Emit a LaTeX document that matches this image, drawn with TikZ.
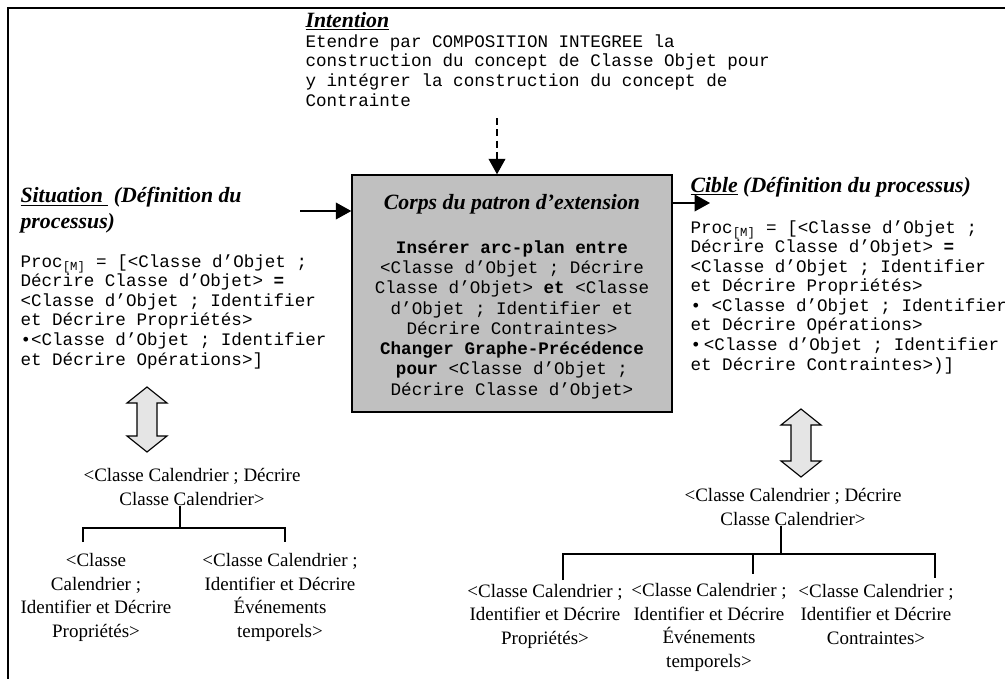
\documentclass[tikz,border=0pt]{standalone}
\usepackage{fontspec}
\setmainfont{Liberation Serif}
\setmonofont{Liberation Mono}
\usetikzlibrary{arrows.meta}
\definecolor{grisboite}{RGB}{192,192,192}
\tikzset{
  titre/.style={font=\fontsize{15.5}{18}\selectfont\bfseries\itshape, inner sep=0pt, align=left},
  code/.style={font=\fontsize{12.5}{13.9}\selectfont\ttfamily, inner sep=0pt, align=left},
  tache/.style={font=\fontsize{13.5}{16.6}\selectfont, inner sep=0pt, align=center, anchor=base},
  fleche/.style={-{Triangle[length=11pt,width=12pt]}, line width=0.8pt},
}
\newcommand{\procm}{Proc\textsubscript{[M]}}

\begin{document}
\begin{tikzpicture}[x=0.025cm, y=-0.025cm, line width=0.8pt]
\useasboundingbox (0,0) rectangle (1005,679);
\draw[line width=1pt] (1005,8) -- (8,8) -- (8,679);

% intention (base = derniere ligne)
\node[titre, anchor=base west] (inttitre) at (305,27) {\underline{Intention}};
\node[code, anchor=base west] (inttexte) at (305,106)
  {Etendre par COMPOSITION INTEGREE la\\construction du concept de Classe Objet pour\\y intégrer la construction du concept de\\Contrainte};

% corps du patron
\node[draw, line width=1pt, fill=grisboite, minimum width=8cm, minimum height=5.925cm] (corps) at (512,293.5) {};
\node[titre, anchor=base] (corpstitre) at (512,209) {Corps du patron d’extension};
\node[code, align=center, anchor=base, font=\fontsize{12.5}{14.4}\selectfont\ttfamily] (corpstexte) at (512,395)
  {\textbf{Insérer arc-plan entre}\\<Classe d’Objet ; Décrire\\Classe d’Objet> \textbf{et} <Classe\\d’Objet ; Identifier et\\Décrire Contraintes>\\\textbf{Changer Graphe-Précédence}\\\textbf{pour} <Classe d’Objet ;\\Décrire Classe d’Objet>};

% situation
\node[titre, anchor=base west] (sittitre) at (20,228) {\underline{Situation\ }\ (Définition du\\processus)};
\node[code, anchor=base west] (sitproc) at (20,365)
  {\procm{} = [<Classe d’Objet ;\\Décrire Classe d’Objet> \textbf{=}\\<Classe d’Objet ; Identifier\\et Décrire Propriétés>\\•<Classe d’Objet ; Identifier\\et Décrire Opérations>]};

% cible
\node[titre, anchor=base west] (cibtitre) at (690,192) {\underline{Cible} (Définition du processus)};
\node[code, anchor=base west] (cibproc) at (690,370)
  {\procm{} = [<Classe d’Objet ;\\Décrire Classe d’Objet> \textbf{=}\\<Classe d’Objet ; Identifier\\et Décrire Propriétés>\\• <Classe d’Objet ; Identifier\\et Décrire Opérations>\\•\kern2pt<Classe d’Objet ; Identifier\\et Décrire Contraintes>)]};

% fleches vers le corps
\coordinate (intbas) at (497,118);
\draw[fleche, dash pattern=on 5pt off 3pt] (intbas) -- (intbas |- corps.north);
\coordinate (sitfin) at (300,211);
\draw[fleche] (sitfin) -- (sitfin -| corps.west);
\coordinate (cibfin) at (710,203);
\draw[fleche] (cibfin -| corps.east) -- (cibfin);

% doubles fleches
\foreach \x/\h/\b in {147/387/452, 801/409/477}
  \draw[fill=gray!20] (\x,\h) -- (\x+20,\h+16) -- (\x+10,\h+16) -- (\x+10,\b-16) -- (\x+20,\b-16)
    -- (\x,\b) -- (\x-20,\b-16) -- (\x-10,\b-16) -- (\x-10,\h+16) -- (\x-20,\h+16) -- cycle;

% arbre situation
\node[tache] (gracine) at (192,505) {<Classe Calendrier ; Décrire\\Classe Calendrier>};
\node[tache] (gprop) at (96,637) {<Classe\\Calendrier ;\\Identifier et Décrire\\Propriétés>};
\node[tache] (gevt) at (280,637) {<Classe Calendrier ;\\Identifier et Décrire\\Événements\\temporels>};
\coordinate (gfourche) at (180,528);
\coordinate (ggauche) at (83,542);
\coordinate (gdroite) at (285,542);
\draw (gfourche |- gracine.south) -- (gfourche);
\draw (ggauche) |- (gfourche) -| (gdroite);

% arbre cible
\node[tache] (dracine) at (793,525) {<Classe Calendrier ; Décrire\\Classe Calendrier>};
\node[tache] (dprop) at (545,644) {<Classe Calendrier ;\\Identifier et Décrire\\Propriétés>};
\node[tache] (devt) at (709,667) {<Classe Calendrier ;\\Identifier et Décrire\\Événements\\temporels>};
\node[tache] (dcont) at (876,644) {<Classe Calendrier ;\\Identifier et Décrire\\Contraintes>};
\coordinate (dfourche) at (781,554);
\coordinate (dgauche) at (563,580);
\coordinate (ddroite) at (935,578);
\coordinate (dmilieu) at (753,574);
\draw (dfourche |- dracine.south) -- (dfourche);
\draw (dgauche) |- (dfourche) -| (ddroite);
\draw (dmilieu |- dfourche) -- (dmilieu);
\end{tikzpicture}
\end{document}
